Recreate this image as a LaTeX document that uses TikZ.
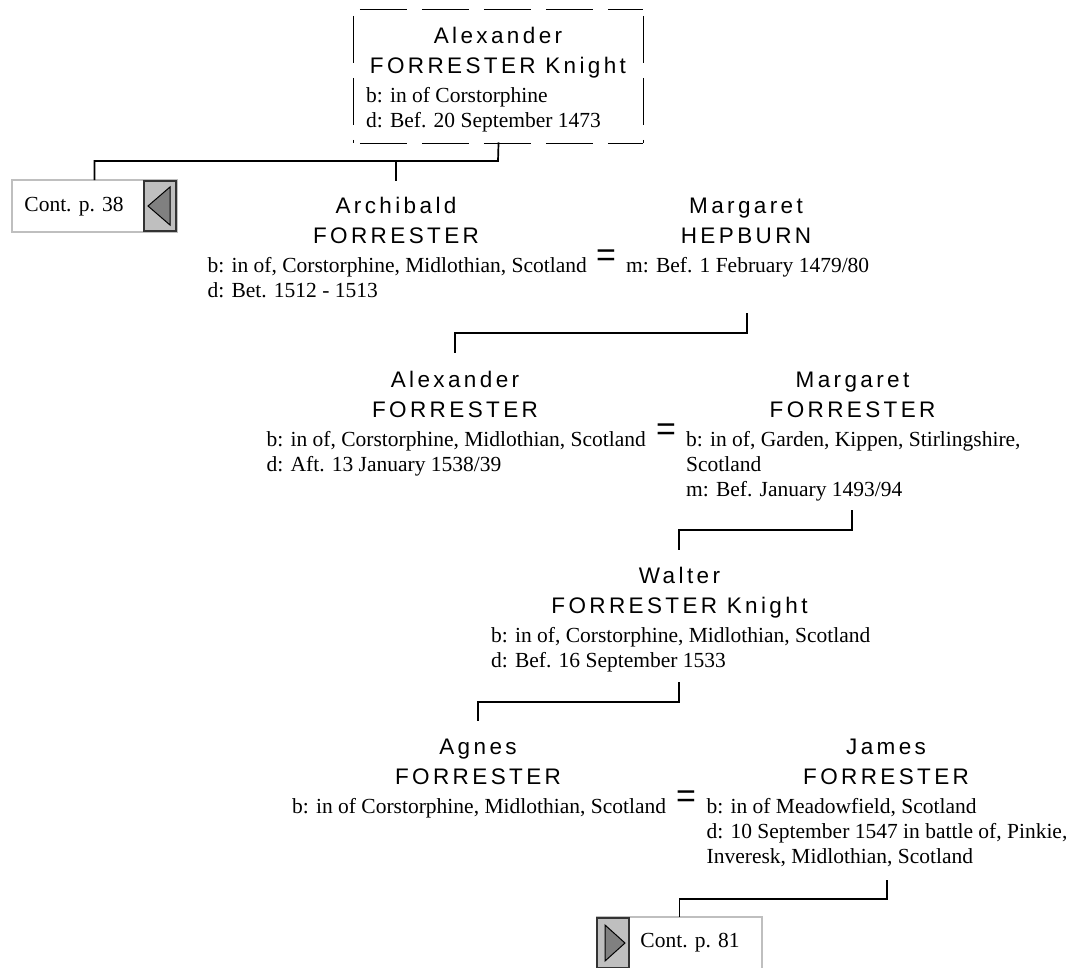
\documentclass[tikz,border=0pt]{standalone}
\usepackage{fontspec}
\setmainfont{Liberation Serif}
\newfontfamily\namefont[LetterSpace=15]{Liberation Sans}
\newfontfamily\eqfont{Liberation Sans}
\begin{document}
\begin{tikzpicture}[x=1pt,y=-1pt,
  nm/.style={anchor=base, inner sep=0pt, font=\namefont\fontsize{22.5}{25}\selectfont},
  dt/.style={anchor=base west, inner sep=0pt, font=\fontsize{21.5}{25}\selectfont},
  eqs/.style={inner sep=0pt, font=\eqfont\fontsize{34}{34}\selectfont},
  conn/.style={line width=1.7pt, line cap=rect},
  dsh/.style={line width=1.3pt, dash pattern=on 47pt off 15pt, dash phase=56pt},
  contbox/.style={draw=black!25, line width=1.3pt, minimum width=165pt, minimum height=52pt, inner sep=0pt},
  arrbox/.style={draw=black!80, fill=black!25, line width=1.1pt, minimum width=32pt, minimum height=50pt, inner sep=0pt},
  tri/.style={draw=black, fill=black!50, line width=1pt, line join=miter},
  ctext/.style={inner sep=0pt, font=\fontsize{21.5}{25}\selectfont}]
\useasboundingbox (0,0) rectangle (1070,967);

% ---------- root person (dashed box)
\node[minimum width=289pt, minimum height=133pt, inner sep=0pt] (root) at (498.5,76.5) {};
\draw[dsh] (root.north west) -- (root.north east);
\draw[dsh] (root.south west) -- (root.south east);
\draw[dsh] (root.north west) -- (root.south west);
\draw[dsh] (root.north east) -- (root.south east);
\node[nm] (r1) at (498,43) {Alexander};
\node[nm] (r2) at (498,73.5) {FORRESTER Knight};
\node[dt] (r3) at (366,102) {b: in of Corstorphine};
\node[dt] (r4) at (366,127) {d: Bef. 20 September 1473};

% ---------- Cont. p. 38
\node[contbox] (c38) at (94.5,206) {};
\node[arrbox] (a38) at (160,206) {};
\draw[tri] ([xshift=-12pt]a38.center) -- ([xshift=10pt,yshift=-19pt]a38.center) -- ([xshift=10pt,yshift=19pt]a38.center) -- cycle;
\node[ctext] (t38) at (74,207) {Cont. p. 38};

% ---------- Archibald = Margaret HEPBURN
\coordinate (archtop) at (396,180);
\node[nm] (ar1) at (396,213) {Archibald};
\node[nm] (ar2) at (396,243.5) {FORRESTER};
\node[dt] (ar3) at (207.5,272) {b: in of, Corstorphine, Midlothian, Scotland};
\node[dt] (ar4) at (207.5,297) {d: Bet. 1512 - 1513};
\node[eqs] (eq1) at (606,258) {=};
\node[nm] (mh1) at (746,213) {Margaret};
\node[nm] (mh2) at (746,243.5) {HEPBURN};
\node[dt] (mh3) at (626,272) {m: Bef. 1 February 1479/80};
\coordinate (mhbot) at (747,314);

% ---------- Alexander = Margaret FORRESTER
\coordinate (a2top) at (455,352);
\node[nm] (al1) at (455,387) {Alexander};
\node[nm] (al2) at (455,417.5) {FORRESTER};
\node[dt] (al3) at (266.5,446) {b: in of, Corstorphine, Midlothian, Scotland};
\node[dt] (al4) at (266.5,471) {d: Aft. 13 January 1538/39};
\node[eqs] (eq2) at (666,432.5) {=};
\node[nm] (mf1) at (852.5,387) {Margaret};
\node[nm] (mf2) at (852.5,417.5) {FORRESTER};
\node[dt] (mf3) at (686,446) {b: in of, Garden, Kippen, Stirlingshire,};
\node[dt] (mf4) at (686,471) {Scotland};
\node[dt] (mf5) at (686,496) {m: Bef. January 1493/94};
\coordinate (mfbot) at (852,511);

% ---------- Walter
\coordinate (wtop) at (679,549);
\node[nm] (w1) at (679.5,583) {Walter};
\node[nm] (w2) at (679.5,613.5) {FORRESTER Knight};
\node[dt] (w3) at (491,642) {b: in of, Corstorphine, Midlothian, Scotland};
\node[dt] (w4) at (491,667) {d: Bef. 16 September 1533};
\coordinate (wbot) at (679,683);

% ---------- Agnes = James
\coordinate (agtop) at (478,720);
\node[nm] (ag1) at (478,754) {Agnes};
\node[nm] (ag2) at (478,784.5) {FORRESTER};
\node[dt] (ag3) at (292,813) {b: in of Corstorphine, Midlothian, Scotland};
\node[eqs] (eq3) at (686,799.5) {=};
\node[nm] (j1) at (886,754) {James};
\node[nm] (j2) at (886,784.5) {FORRESTER};
\node[dt] (j3) at (706.5,813) {b: in of Meadowfield, Scotland};
\node[dt] (j4) at (706.5,838) {d: 10 September 1547 in battle of, Pinkie,};
\node[dt] (j5) at (706.5,863) {Inveresk, Midlothian, Scotland};
\coordinate (jbot) at (887,881);

% ---------- Cont. p. 81
\node[contbox] (c81) at (679.5,943) {};
\node[arrbox] (a81) at (613,943) {};
\draw[tri] ([xshift=12pt]a81.center) -- ([xshift=-8pt,yshift=-18pt]a81.center) -- ([xshift=-8pt,yshift=18pt]a81.center) -- cycle;
\node[ctext] (t81) at (690,943) {Cont. p. 81};

% ---------- connectors
\coordinate (rj) at (498,161);
\draw[conn] (root.south) -- (rj) -| (c38.north);
\draw[conn] (rj) -| (archtop);
\draw[conn] (mhbot) -- ++(0,19) -| (a2top);
\draw[conn] (mfbot) -- ++(0,19) -| (wtop);
\draw[conn] (wbot) -- ++(0,19) -| (agtop);
\draw[conn] (jbot) -- ++(0,18) -| (c81.north);
\end{tikzpicture}
\end{document}
